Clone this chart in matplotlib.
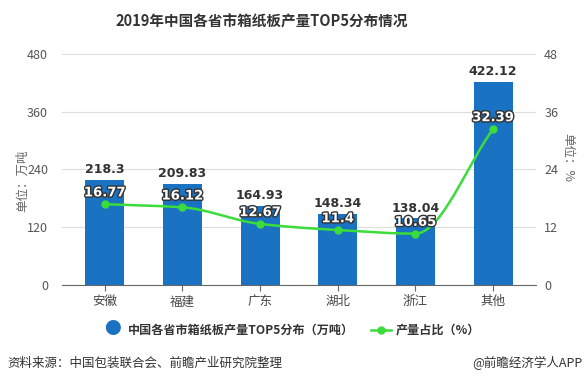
import numpy as np
import matplotlib.pyplot as plt
import matplotlib.patheffects as pe

plt.rcParams['font.family'] = ['Noto Sans CJK SC', 'DejaVu Sans']

regions = ['安徽', '福建', '广东', '湖北', '浙江', '其他']
output = [218.3, 209.83, 164.93, 148.34, 138.04, 422.12]
share = [16.77, 16.12, 12.67, 11.4, 10.65, 32.39]
left_ticks = [0, 120, 240, 360, 480]
right_ticks = [0, 12, 24, 36, 48]

bar_color = '#1a73c2'
line_color = '#3bdc3b'


def smooth(x, y, n=30):
    # monotone cubic hermite, only for drawing the curve between the points
    x = np.asarray(x, float)
    y = np.asarray(y, float)
    h = np.diff(x)
    d = np.diff(y) / h
    m = np.zeros_like(y)
    m[0], m[-1] = d[0], d[-1]
    for i in range(1, len(y) - 1):
        if d[i - 1] * d[i] > 0:
            m[i] = 2 / (1 / d[i - 1] + 1 / d[i])
    xs, ys = [], []
    for i in range(len(h)):
        t = np.linspace(0, 1, n)
        h00 = 2 * t**3 - 3 * t**2 + 1
        h10 = t**3 - 2 * t**2 + t
        h01 = -2 * t**3 + 3 * t**2
        h11 = t**3 - t**2
        xs.append(x[i] + t * h[i])
        ys.append(h00 * y[i] + h10 * h[i] * m[i] + h01 * y[i + 1] + h11 * h[i] * m[i + 1])
    return np.concatenate(xs), np.concatenate(ys)


fig = plt.figure(figsize=(5.85, 3.85), dpi=100)
ax = fig.add_axes([0.106, 0.26, 0.81, 0.6])
x = np.arange(len(regions))

ax.bar(x, output, width=0.5, color=bar_color, zorder=2)
ax.set_ylim(0, 480)
ax.set_xlim(-0.55, len(regions) - 0.45)
ax.set_yticks(left_ticks)
ax.set_xticks(x)
ax.set_xticklabels(regions)
ax.grid(axis='y', color='#dddddd', linewidth=0.8, zorder=0)
for s in ['top', 'right', 'left']:
    ax.spines[s].set_visible(False)
ax.spines['bottom'].set_color('#666666')
ax.tick_params(axis='y', length=0, labelsize=9, colors='#555555', pad=10)
ax.tick_params(axis='x', length=4, color='#666666', labelsize=9, colors='#444444')
ax.set_ylabel('单位：万吨', fontsize=9, color='#666666', va='center')
ax.yaxis.set_label_coords(-0.084, 0.45)

for xi, v in zip(x, output):
    ax.text(xi, v + 8, f'{v:g}', ha='center', va='bottom', fontsize=9,
            fontweight='bold', color='#333333', family=['DejaVu Sans'])

ax2 = ax.twinx()
ax2.set_ylim(0, 48)
ax2.set_yticks(right_ticks)
for s in ax2.spines.values():
    s.set_visible(False)
ax2.tick_params(axis='y', length=0, labelsize=9, colors='#555555', pad=6)
ax2.set_ylabel('单位：%', fontsize=9, color='#666666', rotation=-90, va='center')
ax2.yaxis.set_label_coords(1.068, 0.55)

sx, sy = smooth(x, share)
ax2.plot(sx, sy, color=line_color, linewidth=1.8, zorder=3)
ax2.plot(x, share, 'o', color=line_color, markersize=5, zorder=4)
for xi, v in zip(x, share):
    ax2.text(xi, v + 1.0, f'{v:g}', ha='center', va='bottom', fontsize=9.5,
             fontweight='bold', color='white', family=['DejaVu Sans'],
             path_effects=[pe.withStroke(linewidth=2, foreground='#333333')], zorder=5)

fig.text(0.447, 0.945, '2019年中国各省市箱纸板产量TOP5分布情况', ha='center', va='center',
         fontsize=10.5, fontweight='bold', color='#333333')

# legend
ly = 0.143
fig.text(0.193, ly, '●', color=bar_color, fontsize=12, ha='center', va='center')
fig.text(0.218, ly, '中国各省市箱纸板产量TOP5分布（万吨）', fontsize=8.7,
         fontweight='bold', color='#333333', va='center')
fig.lines.append(plt.Line2D([0.635, 0.668], [ly, ly], color=line_color,
                            linewidth=1.8, transform=fig.transFigure))
fig.lines.append(plt.Line2D([0.6515], [ly], marker='o', color=line_color,
                            markersize=5, transform=fig.transFigure))
fig.text(0.677, ly, '产量占比（%）', fontsize=8.7, fontweight='bold',
         color='#333333', va='center')

fig.text(0.012, 0.057, '资料来源：中国包装联合会、前瞻产业研究院整理', fontsize=9,
         color='#333333', va='center')
fig.text(0.995, 0.057, '@前瞻经济学人APP', fontsize=9, color='#333333',
         va='center', ha='right')

fig.savefig('out.png', dpi=100)
